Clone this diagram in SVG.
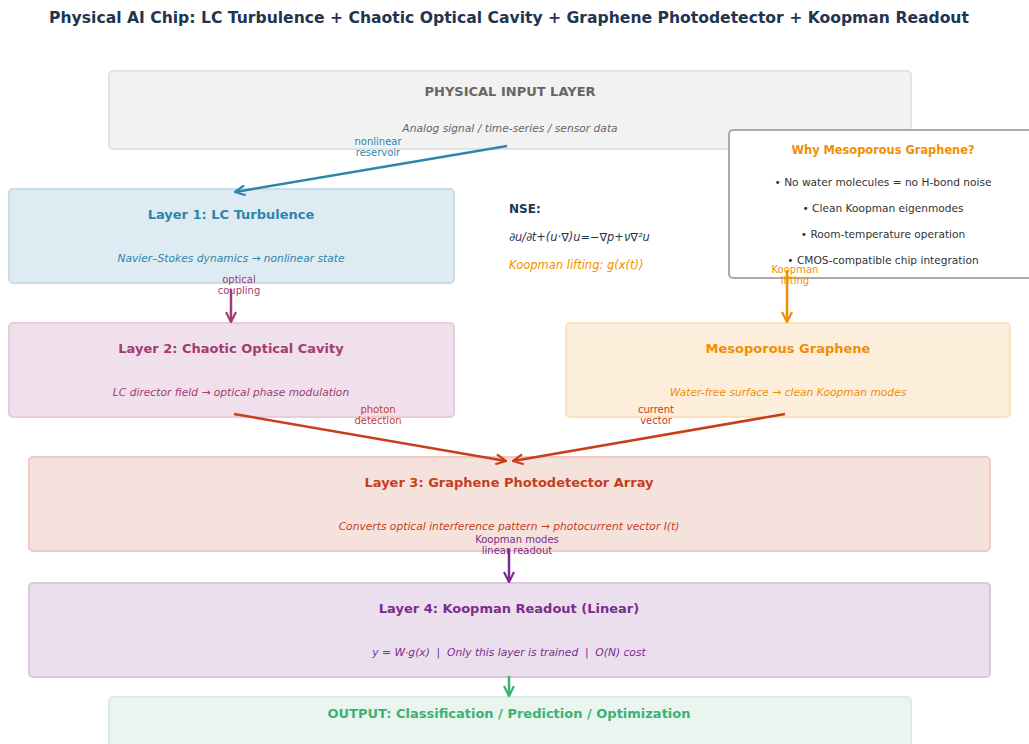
<svg xmlns="http://www.w3.org/2000/svg" width="1029" height="744" viewBox="0 0 1029 744">
<style>
text{font-family:"DejaVu Sans","Liberation Sans",sans-serif;text-anchor:middle}
.t{font-weight:bold;font-size:13px}
.s{font-style:italic;font-size:10.7px}
.l{font-size:10px}
.b{font-size:10.6px;fill:#333333}
.box{stroke-width:2}
.c{fill:none;stroke-width:2.5}
</style>
<defs>
<marker id="mb" viewBox="0 0 12 12" refX="11" refY="6" markerWidth="12" markerHeight="12" markerUnits="userSpaceOnUse" orient="auto"><path d="M1,1 L11,6 L1,11" fill="none" stroke="#2e86ab" stroke-width="2.2"/></marker>
<marker id="mp" viewBox="0 0 12 12" refX="11" refY="6" markerWidth="12" markerHeight="12" markerUnits="userSpaceOnUse" orient="auto"><path d="M1,1 L11,6 L1,11" fill="none" stroke="#a23b72" stroke-width="2.2"/></marker>
<marker id="mo" viewBox="0 0 12 12" refX="11" refY="6" markerWidth="12" markerHeight="12" markerUnits="userSpaceOnUse" orient="auto"><path d="M1,1 L11,6 L1,11" fill="none" stroke="#f18f01" stroke-width="2.2"/></marker>
<marker id="mr" viewBox="0 0 12 12" refX="11" refY="6" markerWidth="12" markerHeight="12" markerUnits="userSpaceOnUse" orient="auto"><path d="M1,1 L11,6 L1,11" fill="none" stroke="#c73e1d" stroke-width="2.2"/></marker>
<marker id="mv" viewBox="0 0 12 12" refX="11" refY="6" markerWidth="12" markerHeight="12" markerUnits="userSpaceOnUse" orient="auto"><path d="M1,1 L11,6 L1,11" fill="none" stroke="#7b2d8e" stroke-width="2.2"/></marker>
<marker id="mg" viewBox="0 0 12 12" refX="11" refY="6" markerWidth="12" markerHeight="12" markerUnits="userSpaceOnUse" orient="auto"><path d="M1,1 L11,6 L1,11" fill="none" stroke="#3bb273" stroke-width="2.2"/></marker>
</defs>
<rect width="1029" height="744" fill="#ffffff"/>
<text x="509" y="23" style="font-weight:bold;font-size:15.6px" fill="#1f3552">Physical AI Chip: LC Turbulence + Chaotic Optical Cavity + Graphene Photodetector + Koopman Readout</text>

<g id="input">
<rect class="box" x="109" y="71" width="802" height="78" rx="4" fill="#f2f2f2" stroke="#e3e3e3"/>
<text class="t" x="510" y="96" fill="#666666">PHYSICAL INPUT LAYER</text>
<text class="s" x="510" y="132" fill="#666666">Analog signal / time-series / sensor data</text>
</g>

<g id="layer1">
<rect class="box" x="9" y="189" width="445" height="94" rx="4" fill="#deebf2" stroke="#c6dfea"/>
<text class="t" x="231" y="219" fill="#2e86ab">Layer 1: LC Turbulence</text>
<text class="s" x="231" y="262" fill="#2e86ab">Navier–Stokes dynamics → nonlinear state</text>
</g>

<g id="nse">
<text x="509" y="213" style="text-anchor:start;font-weight:bold;font-size:12px" fill="#1f3552">NSE:</text>
<text x="509" y="241" style="text-anchor:start;font-style:italic;font-size:11.4px" fill="#1f3552">∂u/∂t+(u·∇)u=−∇p+ν∇²u</text>
<text x="509" y="269" style="text-anchor:start;font-style:italic;font-size:11.5px" fill="#f18f01">Koopman lifting: g(x(t))</text>
</g>

<g id="why">
<rect x="729" y="130" width="310" height="148" rx="4" fill="#ffffff" stroke="#aaaaaa" stroke-width="2"/>
<text x="883" y="154" style="font-weight:bold;font-size:11.4px" fill="#f18f01">Why Mesoporous Graphene?</text>
<text class="b" x="883" y="186">• No water molecules = no H-bond noise</text>
<text class="b" x="883" y="212">• Clean Koopman eigenmodes</text>
<text class="b" x="883" y="238">• Room-temperature operation</text>
<text class="b" x="883" y="264">• CMOS-compatible chip integration</text>
</g>

<g id="layer2">
<rect class="box" x="9" y="323" width="445" height="94" rx="4" fill="#f0e0eb" stroke="#e8cbdc"/>
<text class="t" x="231" y="353" fill="#a23b72">Layer 2: Chaotic Optical Cavity</text>
<text class="s" x="231" y="396" fill="#a23b72">LC director field → optical phase modulation</text>
</g>

<g id="meso">
<rect class="box" x="566" y="323" width="444" height="94" rx="4" fill="#fdeedb" stroke="#fbe0c0"/>
<text class="t" x="788" y="353" fill="#f18f01">Mesoporous Graphene</text>
<text class="s" x="788" y="396" fill="#f18f01">Water-free surface → clean Koopman modes</text>
</g>

<g id="layer3">
<rect class="box" x="29" y="457" width="961" height="94" rx="4" fill="#f6e2dd" stroke="#f2c9c0"/>
<text class="t" x="509" y="487" fill="#c73e1d">Layer 3: Graphene Photodetector Array</text>
<text class="s" x="509" y="530" fill="#c73e1d">Converts optical interference pattern → photocurrent vector I(t)</text>
</g>

<g id="layer4">
<rect class="box" x="29" y="583" width="961" height="94" rx="4" fill="#ebdeed" stroke="#dcc5df"/>
<text class="t" x="509" y="613" fill="#7b2d8e">Layer 4: Koopman Readout (Linear)</text>
<text class="s" x="509" y="656" fill="#7b2d8e" xml:space="preserve">y = W·g(x)  |  Only this layer is trained  |  O(N) cost</text>
</g>

<g id="output">
<rect class="box" x="109" y="697" width="802" height="60" rx="4" fill="#eaf5f0" stroke="#d8ede3"/>
<text class="t" x="509" y="718" fill="#3bb273">OUTPUT: Classification / Prediction / Optimization</text>
</g>

<g id="connectors">
<path class="c" d="M507,146 L235,192" stroke="#2e86ab" marker-end="url(#mb)"/>
<path class="c" d="M231,289 L231,322" stroke="#a23b72" marker-end="url(#mp)"/>
<path class="c" d="M787,270 L787,322" stroke="#f18f01" marker-end="url(#mo)"/>
<path class="c" d="M234,414 L506,461" stroke="#c73e1d" marker-end="url(#mr)"/>
<path class="c" d="M785,414 L513,461" stroke="#c73e1d" marker-end="url(#mr)"/>
<path class="c" d="M509,549 L509,582" stroke="#7b2d8e" marker-end="url(#mv)"/>
<path class="c" d="M509,676 L509,696" stroke="#3bb273" marker-end="url(#mg)"/>
<text class="l" fill="#2e86ab"><tspan x="378" y="145">nonlinear</tspan><tspan x="378" y="156">reservoir</tspan></text>
<text class="l" fill="#a23b72"><tspan x="239" y="283">optical</tspan><tspan x="239" y="294">coupling</tspan></text>
<text class="l" fill="#f18f01"><tspan x="795" y="273">Koopman</tspan><tspan x="795" y="284">lifting</tspan></text>
<text class="l" fill="#c73e1d"><tspan x="378" y="413">photon</tspan><tspan x="378" y="424">detection</tspan></text>
<text class="l" fill="#c73e1d"><tspan x="656" y="413">current</tspan><tspan x="656" y="424">vector</tspan></text>
<text class="l" fill="#7b2d8e"><tspan x="517" y="543">Koopman modes</tspan><tspan x="517" y="554">linear readout</tspan></text>
</g>
</svg>
